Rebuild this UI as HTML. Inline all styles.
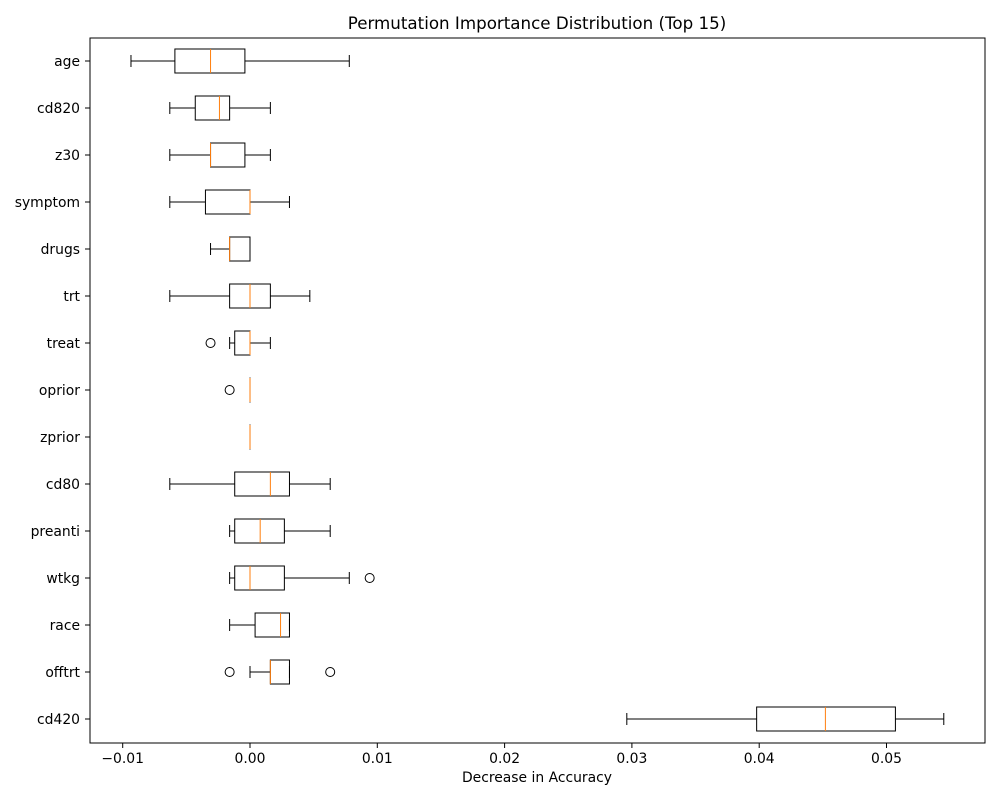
<!DOCTYPE html>
<html><head><meta charset="utf-8"><style>
body{margin:0;background:#fff;font-family:"DejaVu Sans","Liberation Sans",sans-serif;}
</style></head><body>
<svg id="chart" width="1000" height="800" xmlns="http://www.w3.org/2000/svg" font-family="DejaVu Sans, Liberation Sans, sans-serif">
<rect width="1000" height="800" fill="#fff"/>
<text x="537" y="29" text-anchor="middle" font-size="16.7">Permutation Importance Distribution (Top 15)</text>
<text x="537" y="782" text-anchor="middle" font-size="13.9">Decrease in Accuracy</text>
<g id="marks"></g>
<rect x="90" y="38" width="895" height="705" fill="none" stroke="#000" stroke-width="1"/>
</svg>
<script>
const categories=["age","cd820","z30","symptom","drugs","trt","treat","oprior","zprior","cd80","preanti","wtkg","race","offtrt","cd420"];
const whiskLow=[-0.00935,-0.0063,-0.0063,-0.0063,-0.0031,-0.0063,-0.0016,0,0,-0.0063,-0.0016,-0.0016,-0.0016,0,0.0296];
const q1=[-0.0059,-0.0043,-0.0031,-0.0035,-0.0016,-0.0016,-0.0012,0,0,-0.0012,-0.0012,-0.0012,0.0004,0.0016,0.0398];
const medians=[-0.0031,-0.0024,-0.0031,0,-0.0016,0,0,0,0,0.0016,0.0008,0,0.0024,0.0016,0.0452];
const q3=[-0.0004,-0.0016,-0.0004,0,0,0.0016,0,0,0,0.0031,0.0027,0.0027,0.0031,0.0031,0.0507];
const whiskHigh=[0.0078,0.0016,0.0016,0.0031,0,0.0047,0.0016,0,0,0.0063,0.0063,0.0078,0.0031,0.0031,0.0545];
const outliers=[[],[],[],[],[],[],[-0.0031],[-0.0016],[],[],[],[0.0094],[],[-0.0016,0.0063],[]];
const ticks=[-0.01,0,0.01,0.02,0.03,0.04,0.05];
const tickLabels=["−0.01","0.00","0.01","0.02","0.03","0.04","0.05"];
const X=v=>250+v*12730;
const Y=i=>61+i*47;
const NS="http://www.w3.org/2000/svg";
const g=document.getElementById('marks');
function mk(tag,a,parent){const e=document.createElementNS(NS,tag);for(const k in a)e.setAttribute(k,a[k]);(parent||g).appendChild(e);return e;}
ticks.forEach((t,i)=>{
 const l=mk('line',{x1:X(t),x2:X(t),y1:743,y2:748,stroke:'#000'});
 
 
 const tx=mk('text',{x:X(t),y:763,'text-anchor':'middle','font-size':13.9});
 tx.textContent=tickLabels[i];
 
 
});
categories.forEach((c,i)=>{
 const y=Y(i);
 const l=mk('line',{x1:85,x2:90,y1:y,y2:y,stroke:'#000'});
 
 
 const tx=mk('text',{x:80,y:y+5,'text-anchor':'end','font-size':13.9});
 tx.textContent=c;
 
 
 const grp=mk('g',{});
 
 
 const h=12;
 mk('line',{x1:X(whiskLow[i]),x2:X(q1[i]),y1:y,y2:y,stroke:'#000'},grp);
 mk('line',{x1:X(q3[i]),x2:X(whiskHigh[i]),y1:y,y2:y,stroke:'#000'},grp);
 mk('line',{x1:X(whiskLow[i]),x2:X(whiskLow[i]),y1:y-6,y2:y+6,stroke:'#000'},grp);
 mk('line',{x1:X(whiskHigh[i]),x2:X(whiskHigh[i]),y1:y-6,y2:y+6,stroke:'#000'},grp);
 mk('rect',{x:X(q1[i]),y:y-h,width:Math.max(X(q3[i])-X(q1[i]),0.01),height:2*h,fill:'none',stroke:'#000'},grp);
 mk('line',{x1:X(medians[i]),x2:X(medians[i]),y1:y-h,y2:y+h,stroke:'#ff7f0e'},grp);
 outliers[i].forEach(o=>{
  const c2=mk('circle',{cx:X(o),cy:y,r:4.5,fill:'none',stroke:'#000'},grp);
  
  
 });
});
</script>
</body></html>
